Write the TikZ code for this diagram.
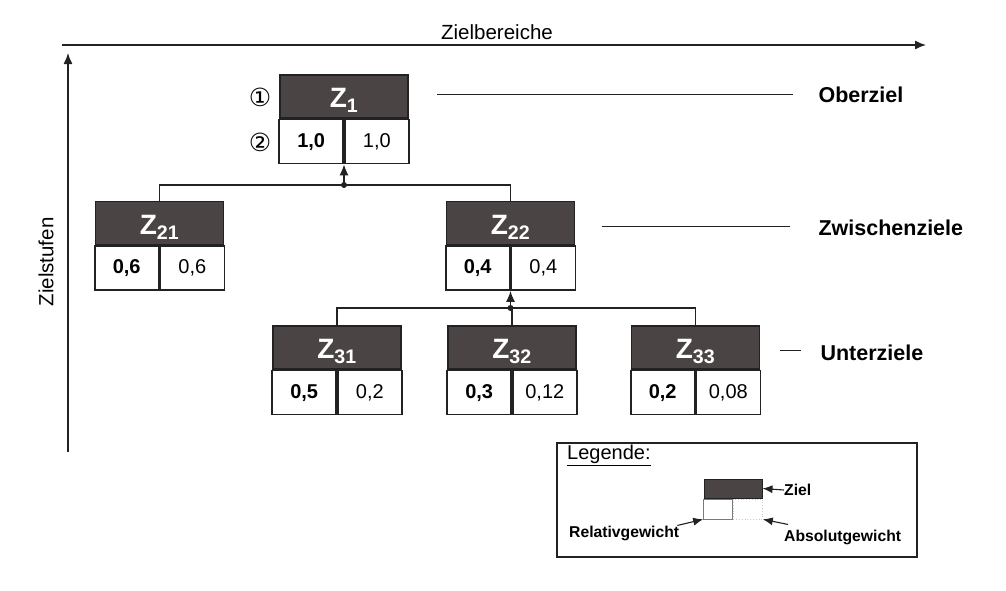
\documentclass[tikz,border=0pt]{standalone}
\usepackage{fontspec}
\setmainfont{Liberation Sans}
\newfontfamily\symfont{DejaVu Sans}
\usetikzlibrary{arrows.meta}
\definecolor{dk}{HTML}{4A4444}
\definecolor{ln}{HTML}{222222}
\tikzset{
  goalbox/.style={draw=ln, line width=1.6pt, fill=dk, minimum width=128pt, minimum height=43pt, inner sep=0pt, text=white, font=\bfseries\fontsize{28}{30}\selectfont},
  cellbox/.style={draw=ln, line width=1.6pt, fill=white, minimum width=64pt, minimum height=44pt, inner sep=0pt, font=\fontsize{20}{22}\selectfont},
  conn/.style={draw=ln, line width=1.3pt},
  arr/.style={conn, -{Latex[length=11pt,width=9pt]}},
  lvl/.style={anchor=west, font=\bfseries\fontsize{21.5}{24}\selectfont},
  txt/.style={font=\fontsize{20.5}{23}\selectfont},
  legt/.style={anchor=west, inner sep=0pt, font=\bfseries\fontsize{15.7}{18}\selectfont},
}
\newcommand{\goal}[6]{%
  \node[goalbox] (#1) at (#2,#3) {\raisebox{-11pt}[0pt][0pt]{Z\textsubscript{#4}}};
  \node[cellbox, anchor=north east, font=\bfseries\fontsize{20}{22}\selectfont] (#1l) at (#1.south) {#5};
  \node[cellbox, anchor=north west] (#1r) at (#1.south) {#6};
}
\begin{document}
\begin{tikzpicture}[x=1pt,y=-1pt]
\useasboundingbox[fill=white] (0,0) rectangle (1006,590);
% axes
\coordinate (hx0) at (62,45);
\coordinate (hx1) at (926,45);
\coordinate (vy0) at (68,452);
\coordinate (vy1) at (68,53);
\draw[arr] (hx0) -- (hx1);
\draw[arr] (vy0) -- (vy1);
\node[txt] (zb) at (497,32) {Zielbereiche};
\node[txt, rotate=90] (zs) at (46,262) {Zielstufen};
% goals
\goal{za}{344}{96.5}{1}{1,0}{1,0}
\goal{zb1}{159.5}{223}{21}{0,6}{0,6}
\goal{zb2}{510.5}{223}{22}{0,4}{0,4}
\goal{zc1}{337}{347.5}{31}{0,5}{0,2}
\goal{zc2}{512}{347.5}{32}{0,3}{0,12}
\goal{zc3}{695.5}{347.5}{33}{0,2}{0,08}
% circled numbers
\node[font=\symfont\fontsize{25}{27}\selectfont] (c1) at (260,97) {①};
\node[font=\symfont\fontsize{25}{27}\selectfont] (c2) at (260,142) {②};
% connectors level 1
\coordinate (j1) at (344,185);
\draw[conn] (zb1.north) |- (j1) -| (zb2.north);
\draw[arr] (j1) -- (zal.south east);
\fill[ln] (j1) circle (3pt);
% connectors level 2
\coordinate (j2) at (510.5,308);
\draw[conn] (zc1.north) |- (j2) -| (zc3.north);
\draw[conn] (zc2.north) -- (zc2.north |- j2);
\draw[arr] (j2) -- (zb2l.south east);
\fill[ln] (j2) circle (3pt);
% level labels
\node[lvl] (ober) at (815,95) {Oberziel};
\node[lvl] (zwi) at (815,228) {Zwischenziele};
\node[lvl] (unt) at (817,353) {Unterziele};
\coordinate (o1) at (437,94);
\coordinate (o2) at (793,94);
\coordinate (w1) at (602,226);
\coordinate (w2) at (790,226);
\coordinate (u1) at (780,350);
\coordinate (u2) at (801,350);
\draw[conn, line width=1pt] (o1) -- (o2);
\draw[conn, line width=1pt] (w1) -- (w2);
\draw[conn, line width=1pt] (u1) -- (u2);
% legend
\node[draw=ln, line width=1.5pt, minimum width=360pt, minimum height=114pt, inner sep=0pt] (leg) at (737,500) {};
\node[anchor=north west, inner sep=0pt, font=\fontsize{20}{22}\selectfont] (legtitle) at (567,445) {\underline{Legende:}};
\node[draw=ln, line width=1pt, fill=dk, minimum width=58pt, minimum height=19pt, inner sep=0pt] (lz) at (733,488.5) {};
\node[draw=ln!60, line width=0.8pt, minimum width=29pt, minimum height=20pt, inner sep=0pt, anchor=north east] (lzl) at (lz.south) {};
\node[draw=ln!25, line width=0.8pt, dotted, minimum width=29pt, minimum height=20pt, inner sep=0pt, anchor=north west] (lzr) at (lz.south) {};
\node[legt] (lziel) at (784,490) {Ziel};
\node[legt] (lrel) at (569,533) {Relativgewicht};
\node[legt] (labs) at (784,537) {Absolutgewicht};
\draw[conn, line width=1.1pt, -{Latex[length=10pt,width=8pt]}] (lziel.west) -- (lz.east);
\draw[conn, line width=1.1pt, -{Latex[length=10pt,width=8pt]}] (lrel.north east) ++(-2,0) coordinate (ra) -- (lzl.south west);
\draw[conn, line width=1.1pt, -{Latex[length=10pt,width=8pt]}] (labs.north west) ++(4,-5) coordinate (aa) -- (lzr.south east);
\end{tikzpicture}
\end{document}
